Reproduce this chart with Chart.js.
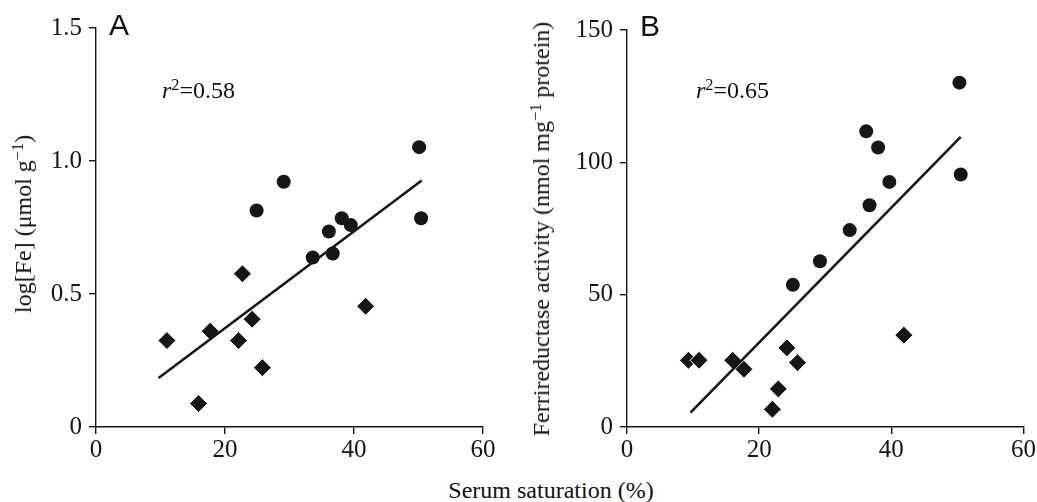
<!DOCTYPE html>
<html>
<head>
<meta charset="utf-8">
<script src="https://cdn.jsdelivr.net/npm/chart.js@4/dist/chart.umd.min.js"></script>
<style>
    body { margin: 0; background: #fff; width: 1037px; height: 502px; position: relative; overflow: hidden; }
    .panel { position: absolute; top: 0; height: 470px; }
    .txt { position: absolute; white-space: nowrap; line-height: 1; color: #111; font-family: "Liberation Serif", "DejaVu Serif", serif; }
    .tag { font-family: "Liberation Sans", Arial, sans-serif; font-size: 30px; }
    .vtitle { transform: translate(-50%, -50%) rotate(-90deg); font-size: 24px; }
    sup { font-size: 0.68em; line-height: 0; vertical-align: 0.5em; }
</style>
</head>
<body>
<div class="panel" style="left:0;width:510px;"><canvas id="chartA"></canvas></div>
<div class="panel" style="left:520px;width:517px;"><canvas id="chartB"></canvas></div>

<div class="txt tag" style="left:109px;top:10px;">A</div>
<div class="txt tag" style="left:640px;top:11px;">B</div>
<div class="txt" style="left:162px;top:78px;font-size:24px;"><i>r</i><sup>2</sup>=0.58</div>
<div class="txt" style="left:696px;top:78px;font-size:24px;"><i>r</i><sup>2</sup>=0.65</div>
<div class="txt vtitle" style="left:23px;top:224px;">log[Fe] (μmol g<sup>−1</sup>)</div>
<div class="txt vtitle" style="left:541px;top:229px;">Ferrireductase activity (nmol mg<sup>−1</sup> protein)</div>
<div class="txt" style="left:551px;top:478px;font-size:24px;transform:translateX(-50%);">Serum saturation (%)</div>

<script>
// 축 눈금
const xTicks = [0, 20, 40, 60];
const aTicks = [0, 0.5, 1.0, 1.5];
const aTickLabels = ['0', '0.5', '1.0', '1.5'];
const bTicks = [0, 50, 100, 150];
const bTickLabels = ['0', '50', '100', '150'];

// A: log[Fe]
const aCircleX = [50.1, 29.1, 24.9, 50.4, 38.1, 39.5, 36.1, 33.6, 36.7];
const aCircleY = [1.052, 0.922, 0.814, 0.785, 0.785, 0.759, 0.735, 0.637, 0.652];
const aDiamondX = [11.0, 15.9, 17.7, 22.7, 22.1, 24.2, 25.8, 41.8];
const aDiamondY = [0.325, 0.088, 0.36, 0.576, 0.325, 0.405, 0.223, 0.454];
const aFitX = [9.7, 50.5];
const aFitY = [0.184, 0.927];

// B: Ferrireductase activity
const bCircleX = [50.3, 36.2, 38.0, 50.5, 39.7, 36.7, 33.7, 29.2, 25.1];
const bCircleY = [130.1, 111.7, 105.6, 95.4, 92.6, 83.8, 74.4, 62.6, 53.7];
const bDiamondX = [9.3, 10.9, 16.0, 17.7, 24.2, 25.8, 22.9, 22.0, 41.9];
const bDiamondY = [25.2, 25.2, 25.2, 21.8, 29.9, 24.3, 14.4, 6.7, 34.7];
const bFitX = [9.6, 50.5];
const bFitY = [5.4, 109.6];

const INK = '#161616';
const tickFont = { family: '"Liberation Serif", "DejaVu Serif", serif', size: 25 };

function toPoints(xs, ys) {
    return xs.map((x, i) => ({ x, y: ys[i] }));
}

function makeChart(id, cfg) {
    const ctx = document.getElementById(id).getContext('2d');
    return new Chart(ctx, {
        type: 'scatter',
        data: {
            datasets: [
                {
                    data: toPoints(cfg.fitX, cfg.fitY),
                    showLine: true,
                    borderColor: INK,
                    borderWidth: 2.6,
                    pointRadius: 0
                },
                {
                    data: toPoints(cfg.circleX, cfg.circleY),
                    pointStyle: 'circle',
                    pointRadius: 7,
                    backgroundColor: INK,
                    borderColor: INK,
                    borderWidth: 0
                },
                {
                    data: toPoints(cfg.diamondX, cfg.diamondY),
                    pointStyle: 'rectRot',
                    pointRadius: 9,
                    backgroundColor: INK,
                    borderColor: '#ffffff',
                    borderWidth: 1
                }
            ]
        },
        options: {
            responsive: true,
            maintainAspectRatio: false,
            animation: false,
            layout: { padding: { top: cfg.padTop, right: cfg.padRight, left: 0, bottom: 0 } },
            plugins: { legend: { display: false }, tooltip: { enabled: false } },
            scales: {
                x: {
                    type: 'linear',
                    min: 0,
                    max: 60,
                    afterBuildTicks: s => { s.ticks = xTicks.map(v => ({ value: v })); },
                    afterFit: s => { s.height = 43; },
                    border: { display: true, color: INK, width: 1.4 },
                    grid: { drawOnChartArea: false, drawTicks: true, tickLength: 7, color: INK, lineWidth: 1.4 },
                    ticks: { color: INK, font: tickFont, padding: 1, maxRotation: 0 }
                },
                y: {
                    type: 'linear',
                    min: 0,
                    max: cfg.yTicks[cfg.yTicks.length - 1],
                    afterBuildTicks: s => { s.ticks = cfg.yTicks.map(v => ({ value: v })); },
                    afterFit: s => { s.width = cfg.yWidth; },
                    border: { display: true, color: INK, width: 1.4 },
                    grid: { drawOnChartArea: false, drawTicks: true, tickLength: 7, color: INK, lineWidth: 1.4 },
                    ticks: {
                        color: INK,
                        font: tickFont,
                        padding: 7,
                        callback: (v, i) => cfg.yLabels[i]
                    }
                }
            }
        }
    });
}

makeChart('chartA', {
    fitX: aFitX, fitY: aFitY,
    circleX: aCircleX, circleY: aCircleY,
    diamondX: aDiamondX, diamondY: aDiamondY,
    yTicks: aTicks, yLabels: aTickLabels,
    yWidth: 96, padTop: 28, padRight: 27
});

makeChart('chartB', {
    fitX: bFitX, fitY: bFitY,
    circleX: bCircleX, circleY: bCircleY,
    diamondX: bDiamondX, diamondY: bDiamondY,
    yTicks: bTicks, yLabels: bTickLabels,
    yWidth: 107, padTop: 30, padRight: 11
});
</script>
</body>
</html>
